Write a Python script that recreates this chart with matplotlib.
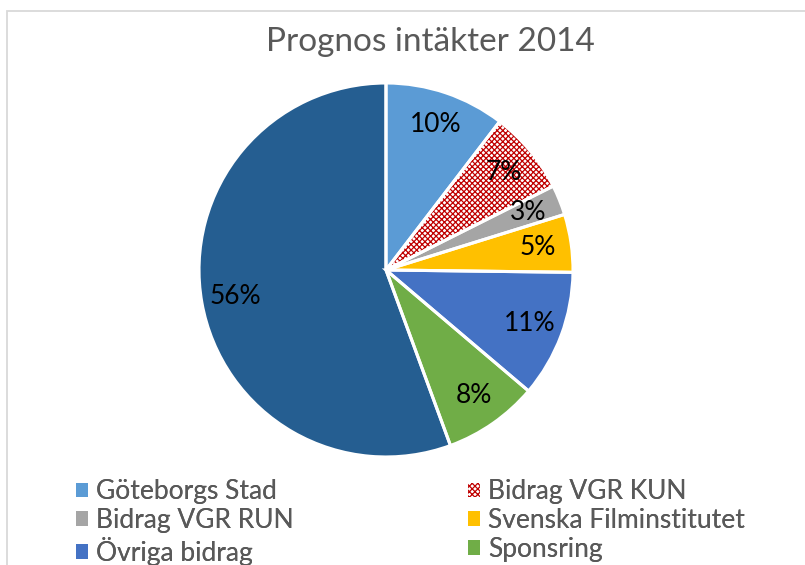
import matplotlib.pyplot as plt
from matplotlib.patches import Rectangle

plt.rcParams['font.family'] = ['Lato', 'DejaVu Sans']
plt.rcParams['hatch.linewidth'] = 0.9

# data
labels = ["Göteborgs Stad", "Bidrag VGR KUN", "Bidrag VGR RUN",
          "Svenska Filminstitutet", "Övriga bidrag", "Sponsring", "Övrigt"]
shares = [10.4, 7.2, 2.6, 5.0, 11.0, 8.2, 55.6]
colors = ["#5B9BD5", "#FFFFFF", "#A5A5A5", "#FFC000", "#4472C4", "#70AD47", "#255E91"]
hatched = "Bidrag VGR KUN"
legend_left = ["Göteborgs Stad", "Bidrag VGR RUN", "Övriga bidrag"]
legend_right = ["Bidrag VGR KUN", "Svenska Filminstitutet", "Sponsring"]

fig = plt.figure(figsize=(8.05, 5.65), dpi=100)

# chart frame
frame = Rectangle((7 / 805, -0.05), 1.2, 1 - 10.5 / 565 + 0.05, transform=fig.transFigure,
                  fill=False, edgecolor="#D9D9D9", linewidth=1.3)
fig.patches.append(frame)

ax = fig.add_axes([0.2472, 0.1912, 0.4646, 0.6619])

# first pass: fills (hatch takes the edge colour)
wedges, _ = ax.pie(shares, colors=colors, startangle=90, counterclock=False,
                   wedgeprops=dict(linewidth=0, edgecolor="none"))
for w, lab in zip(wedges, labels):
    if lab == hatched:
        w.set_hatch("xxxxxx")
        w.set_edgecolor("#C00000")

# second pass: white separators and percentage labels
wedges2, _, autotexts = ax.pie(shares, colors=["none"] * len(shares), startangle=90,
                               counterclock=False, autopct="%.0f%%", pctdistance=0.82,
                               wedgeprops=dict(linewidth=2.2, edgecolor="white", fill=False),
                               textprops=dict(fontsize=19, color="black"))
ax.set_xlim(-1, 1)
ax.set_ylim(-1, 1)
ax.set_aspect("equal")

fig.text(430 / 805, 1 - 42 / 565, "Prognos intäkter 2014", ha="center", va="center",
         fontsize=24, color="#595959")


def make_handle(lab):
    i = labels.index(lab)
    if lab == hatched:
        return Rectangle((0, 0), 1, 1, facecolor="white", edgecolor="#C00000",
                         hatch="xxxxxx", linewidth=0)
    return Rectangle((0, 0), 1, 1, facecolor=colors[i], edgecolor="none")


for names, x0 in [(legend_left, 76), (legend_right, 468)]:
    leg = fig.legend([make_handle(n) for n in names], names, loc="upper left",
                     bbox_to_anchor=(x0 / 805, 1 - 479 / 565), frameon=False,
                     fontsize=19, handlelength=0.45, handleheight=0.45, handletextpad=0.3,
                     labelspacing=0.15, borderpad=0, borderaxespad=0)
    for t in leg.get_texts():
        t.set_color("#595959")
    fig.add_artist(leg)

fig.savefig("out.png", dpi=100)
